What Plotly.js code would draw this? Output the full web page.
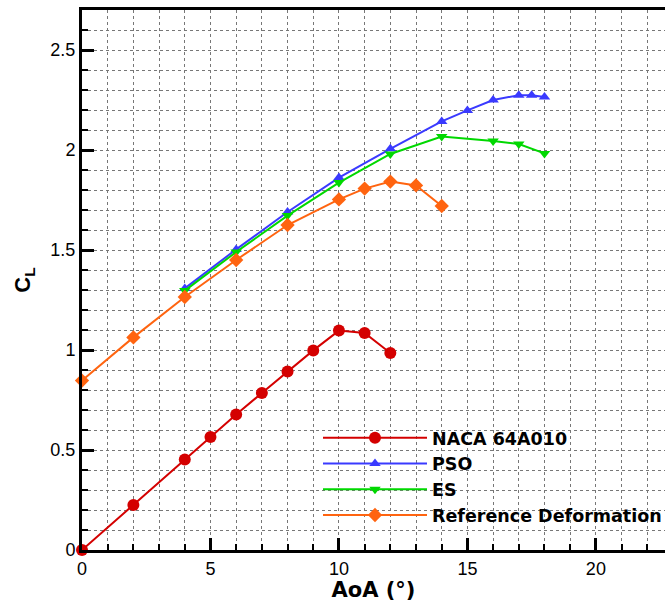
<!DOCTYPE html>
<html>
<head>
<meta charset="utf-8">
<script src="https://cdn.plot.ly/plotly-3.0.1.min.js"></script>
<style>html,body{margin:0;padding:0;background:#fff;}#chart{width:667px;height:602px;}</style>
</head>
<body>
<div id="chart"></div>
<script>
var nacaAoA = [0, 2, 4, 5, 6, 7, 8, 9, 10, 11, 12];
var nacaCL  = [0, 0.225, 0.452, 0.565, 0.677, 0.785, 0.893, 0.998, 1.097, 1.085, 0.985];

var psoAoA = [4, 6, 8, 10, 12, 14, 15, 16, 17, 17.5, 18];
var psoCL  = [1.308, 1.503, 1.69, 1.862, 2.006, 2.143, 2.198, 2.25, 2.274, 2.274, 2.265];

var esAoA = [4, 6, 8, 10, 12, 14, 16, 17, 18];
var esCL  = [1.297, 1.49, 1.672, 1.837, 1.98, 2.067, 2.045, 2.03, 1.983];

var refAoA = [0, 2, 4, 6, 8, 10, 11, 12, 13, 14];
var refCL  = [0.847, 1.063, 1.265, 1.45, 1.625, 1.753, 1.807, 1.842, 1.823, 1.72];

var seriesNames = ['NACA 64A010', 'PSO', 'ES', 'Reference Deformation'];

var FONT = '"Liberation Sans", Arial, Helvetica, sans-serif';
var WIDE = '"DejaVu Sans", "Liberation Sans", Arial, sans-serif';

function tr(x, y, name, color, symbol, size) {
  return {
    x: x, y: y, name: name, type: 'scatter', mode: 'lines+markers',
    line: {color: color, width: 2},
    marker: {color: color, symbol: symbol, size: size},
    cliponaxis: false
  };
}

var data = [
  tr(nacaAoA, nacaCL, seriesNames[0], '#d40000', 'circle', 12),
  tr(psoAoA, psoCL, seriesNames[1], '#3a3aff', 'triangle-up', 10),
  tr(esAoA, esCL, seriesNames[2], '#00d800', 'triangle-down', 10),
  tr(refAoA, refCL, seriesNames[3], '#ff6410', 'diamond', 11)
];

var gridCol = '#777';
var layout = {
  width: 667, height: 602,
  margin: {l: 82, r: 0, t: 10, b: 52, pad: 0},
  paper_bgcolor: '#fff', plot_bgcolor: '#fff',
  font: {family: FONT, color: '#000', size: 18},
  showlegend: true,
  legend: {
    x: 0.405, y: 0.241, xanchor: 'left', yanchor: 'top',
    bgcolor: 'rgba(0,0,0,0)', borderwidth: 0,
    itemwidth: 104, tracegroupgap: 0,
    font: {family: WIDE, size: 17.5, weight: 'bold', color: '#000'}
  },
  xaxis: {
    range: [0, 22.69], tick0: 0, dtick: 5,
    ticks: 'inside', ticklen: 12, tickwidth: 3, tickcolor: '#000',
    showline: true, linewidth: 3, linecolor: '#000', mirror: true,
    showgrid: true, gridcolor: gridCol, griddash: 'dot', gridwidth: 1,
    zeroline: false,
    minor: {dtick: 1, ticks: 'inside', ticklen: 6, tickwidth: 2, tickcolor: '#000',
            showgrid: true, gridcolor: gridCol, griddash: 'dot', gridwidth: 1},
    tickfont: {size: 18, family: FONT},
    title: {text: 'AoA (°)', font: {size: 21, weight: 'bold', family: WIDE}, standoff: 6},
    automargin: false
  },
  yaxis: {
    range: [0, 2.7], tick0: 0, dtick: 0.5,
    ticks: 'inside', ticklen: 12, tickwidth: 3, tickcolor: '#000',
    showline: true, linewidth: 3, linecolor: '#000', mirror: false,
    showgrid: true, gridcolor: gridCol, griddash: 'dot', gridwidth: 1,
    zeroline: false,
    minor: {dtick: 0.1, ticks: 'inside', ticklen: 6, tickwidth: 2, tickcolor: '#000',
            showgrid: true, gridcolor: gridCol, griddash: 'dot', gridwidth: 1},
    tickfont: {size: 18, family: FONT},
    title: {text: 'C<sub>L</sub>', font: {size: 22, weight: 'bold', family: FONT}, standoff: 14},
    automargin: false
  }
};

Plotly.newPlot('chart', data, layout, {displayModeBar: false, staticPlot: true});
</script>
</body>
</html>
